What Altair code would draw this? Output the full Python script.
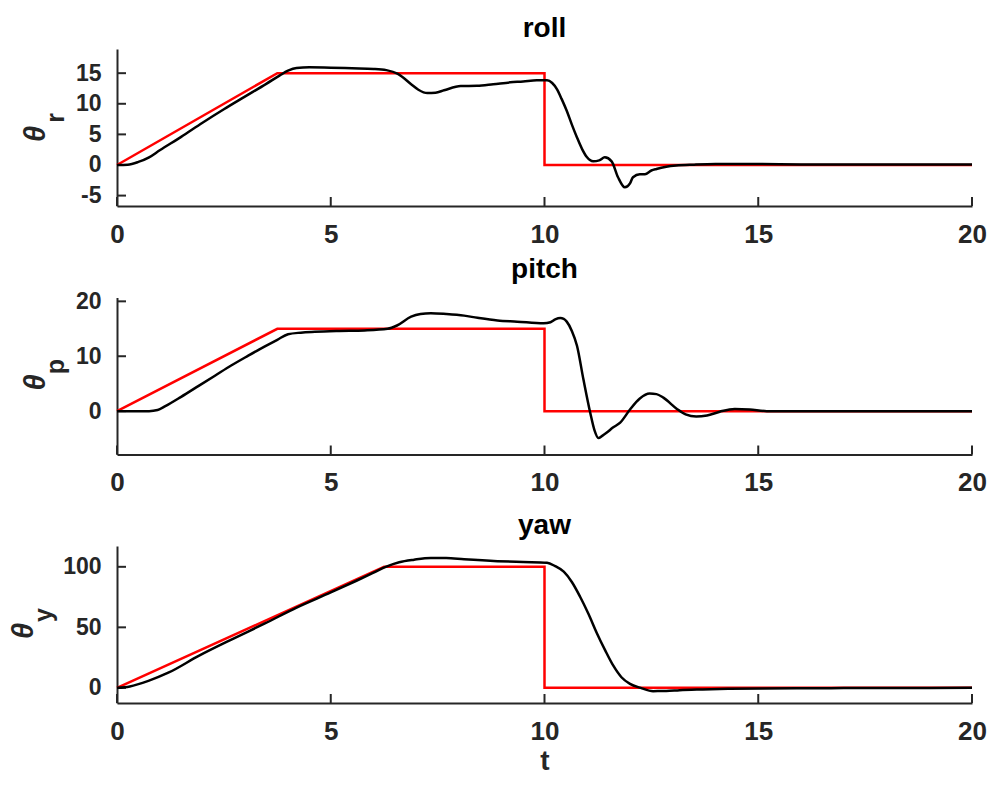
import altair as alt
import pandas as pd

# ---------------- data ----------------
x_ticks = [0, 5, 10, 15, 20]

panel_titles = ["roll", "pitch", "yaw"]
subscripts = ["r", "p", "y"]

# reference (red) signals
ref_roll_t = [0, 3.75, 10, 10, 20]
ref_roll_v = [0, 15, 15, 0, 0]
ref_pitch_t = [0, 3.75, 10, 10, 20]
ref_pitch_v = [0, 15, 15, 0, 0]
ref_yaw_t = [0, 6.25, 10, 10, 20]
ref_yaw_v = [0, 100, 100, 0, 0]

roll_t = [0, 0.25, 0.5, 0.75, 1.0, 1.5, 2.0, 2.5, 3.0, 3.5, 3.8, 4.0, 4.2, 4.5, 5.0,
          5.5, 6.0, 6.3, 6.57, 6.88, 7.05, 7.26, 7.45, 7.65, 8.04, 8.42, 8.8, 9.2,
          9.5, 9.82, 10.06, 10.18, 10.29, 10.4, 10.52, 10.64, 10.76, 10.88, 10.99,
          11.14, 11.28, 11.41, 11.57, 11.72, 11.88, 12.0, 12.07, 12.23, 12.35, 12.5,
          12.62, 12.85, 13.08, 13.5, 14, 15, 16, 17, 18, 19, 20]
roll_v = [0, 0.05, 0.5, 1.25, 2.4, 4.6, 6.9, 9.1, 11.2, 13.3, 14.6, 15.4, 15.85, 15.95,
          15.9, 15.8, 15.7, 15.5, 14.9, 13.2, 12.3, 11.75, 11.8, 12.2, 12.9, 12.95,
          13.2, 13.5, 13.65, 13.85, 13.85, 13.4, 12.4, 10.8, 8.85, 6.6, 4.5, 2.6, 1.3,
          0.6, 0.75, 1.25, 0.6, -2.0, -3.65, -3.0, -2.0, -1.5, -1.5, -0.9, -0.65, -0.3,
          -0.1, 0.05, 0.15, 0.15, 0.1, 0.1, 0.1, 0.1, 0.1]

pitch_t = [0, 0.5, 0.75, 0.95, 1.13, 1.5, 1.91, 2.3, 2.68, 3.07, 3.46, 3.75, 4.0, 4.3,
           4.63, 5.2, 5.79, 6.33, 6.55, 6.88, 7.1, 7.34, 7.7, 8.12, 8.43, 8.9, 9.36,
           9.98, 10.14, 10.25, 10.37, 10.45, 10.52, 10.64, 10.76, 10.91, 11.07, 11.17,
           11.26, 11.35, 11.45, 11.6, 11.77, 12.0, 12.23, 12.46, 12.62, 12.78, 13.09,
           13.3, 13.55, 13.8, 14.1, 14.45, 14.8, 15.2, 16, 17, 18, 19, 20]
pitch_v = [0, 0, 0, 0.2, 0.9, 2.6, 4.6, 6.5, 8.35, 10.1, 11.8, 13.0, 14.0, 14.3, 14.45,
           14.6, 14.7, 15.0, 15.6, 17.2, 17.7, 17.85, 17.7, 17.4, 17.0, 16.5, 16.3,
           16.0, 16.2, 16.7, 16.95, 16.8, 16.3, 14.6, 11.9, 5.8, -0.3, -3.5, -4.9,
           -4.5, -3.95, -3.0, -2.1, 0.3, 2.3, 3.2, 3.1, 2.45, 0.45, -0.6, -1.0, -0.8,
           -0.1, 0.4, 0.3, 0.0, 0, 0, 0, 0, 0]

yaw_t = [0, 0.3, 0.75, 1.2, 1.91, 2.7, 3.46, 4.2, 5.0, 5.6, 6.0, 6.3, 6.6, 6.95, 7.34,
         7.7, 8.12, 8.9, 9.5, 10.06, 10.25, 10.45, 10.64, 10.83, 11.03, 11.22, 11.42,
         11.61, 11.8, 12.0, 12.25, 12.54, 12.85, 13.16, 13.7, 14.33, 15.1, 15.9, 17, 18,
         19, 20]
yaw_v = [0, 1.2, 6.0, 12.5, 26.4, 40.3, 53.2, 66.3, 78.8, 88.5, 95.2, 100.2, 103.8,
         105.9, 107.3, 107.2, 106.2, 104.7, 104.0, 103.4, 100.5, 96, 87.5, 75.5, 61,
         45.6, 31, 18.3, 8.8, 3.3, 0.0, -2.7, -2.6, -1.9, -1.3, -0.8, -0.5, -0.3, -0.2,
         -0.1, -0.1, 0]

y_domains = [[-6.7, 18.95], [-7.9, 20.7], [-12.5, 117.2]]
y_ticks = [[-5, 0, 5, 10, 15], [0, 10, 20], [0, 50, 100]]

# ---------------- styling ----------------
AX = "#262626"
FONT = "Liberation Sans"
W, H = 855, 157
TICK = 9


def panel(idx, t_ref, v_ref, t_act, v_act, theta_x, last):
    ref = pd.DataFrame({"t": t_ref, "v": v_ref, "i": list(range(len(t_ref)))})
    act = pd.DataFrame({"t": t_act, "v": v_act, "i": list(range(len(t_act)))})
    xt = pd.DataFrame({"t": x_ticks})
    yt = pd.DataFrame({"v": y_ticks[idx]})
    one = pd.DataFrame({"a": [0]})

    xs = alt.Scale(domain=[0, 20], nice=False, zero=False)
    ys = alt.Scale(domain=y_domains[idx], nice=False, zero=False)

    xaxis_kw = dict(values=x_ticks, ticks=False, tickSize=0, grid=False,
                    domainColor=AX, domainWidth=2, labelFont=FONT,
                    labelFontSize=26, labelFontWeight="bold", labelColor=AX,
                    labelPadding=15, labelFlush=False, labelOverlap=False)
    if last:
        xaxis = alt.Axis(title="t", titleFont=FONT, titleFontSize=28,
                         titleFontWeight="bold", titleColor=AX, titlePadding=3,
                         **xaxis_kw)
    else:
        xaxis = alt.Axis(title=None, **xaxis_kw)
    yaxis = alt.Axis(values=y_ticks[idx], title=None, ticks=False, tickSize=0,
                     grid=False, domainColor=AX, domainWidth=2, labelFont=FONT,
                     labelFontSize=23, labelFontWeight="bold", labelColor=AX,
                     labelPadding=16, labelFlush=False, labelOverlap=False,
                     labelExpr="replace(datum.label, '\u2212', '-')")

    X = alt.X("t:Q", scale=xs, axis=xaxis)
    Y = alt.Y("v:Q", scale=ys, axis=yaxis)

    red = alt.Chart(ref).mark_line(color="#ff0000", strokeWidth=2.5).encode(
        x=X, y=Y, order="i:Q")
    black = alt.Chart(act).mark_line(color="#000000", strokeWidth=2.5,
                                     interpolate="monotone").encode(
        x=X, y=Y, order="i:Q")
    xtk = alt.Chart(xt).mark_rule(color=AX, strokeWidth=2).encode(
        x=X, y=alt.value(H), y2=alt.value(H - TICK))
    ytk = alt.Chart(yt).mark_rule(color=AX, strokeWidth=2).encode(
        y=Y, x=alt.value(0), x2=alt.value(TICK))
    theta = alt.Chart(one).mark_text(text="\u03b8", font=FONT, fontSize=29,
                                     fontWeight="bold", fontStyle="italic",
                                     angle=270, align="center", baseline="middle",
                                     color=AX).encode(
        x=alt.value(theta_x), y=alt.value(85))
    sub = alt.Chart(one).mark_text(text=subscripts[idx], font=FONT, fontSize=25,
                                   fontWeight="bold", angle=270, align="center",
                                   baseline="middle", color=AX).encode(
        x=alt.value(theta_x + 20), y=alt.value(69))

    return alt.layer(red, xtk, ytk, black, theta, sub).properties(
        width=W, height=H,
        title=alt.TitleParams(text=panel_titles[idx], font=FONT, fontSize=28,
                              fontWeight="bold", color="#000000", offset=6,
                              anchor="middle"))


p1 = panel(0, ref_roll_t, ref_roll_v, roll_t, roll_v, -81, False)
p2 = panel(1, ref_pitch_t, ref_pitch_v, pitch_t, pitch_v, -81, False)
p3 = panel(2, ref_yaw_t, ref_yaw_v, yaw_t, yaw_v, -93, True)

chart = alt.vconcat(p1, p2, p3, spacing=91.5, bounds="flush").properties(
    padding={"left": 2, "top": 7, "right": 0, "bottom": 0},
    background="white",
).configure_view(strokeWidth=0)

chart.save("out.html", embed_options={"renderer": "svg", "actions": False})
